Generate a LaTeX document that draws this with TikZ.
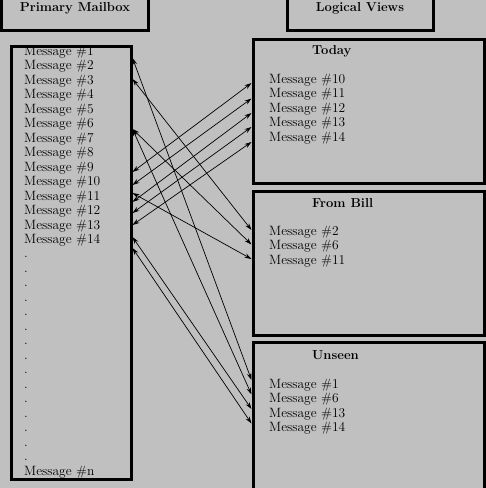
\documentclass[tikz,border=0pt]{standalone}
\usepackage{fontspec}
\usetikzlibrary{arrows.meta}
\definecolor{mailgray}{RGB}{192,192,192}

\begin{document}
\begin{tikzpicture}[x=1pt, y=-1pt,
		frame/.style={draw, line width=3pt, inner sep=0pt},
		msg/.style={anchor=base west, inner sep=0pt, font=\fontsize{13.5}{14.5}\selectfont},
		head/.style={anchor=base, inner sep=0pt, font=\fontsize{13}{14.5}\selectfont\bfseries},
		viewhead/.style={head, anchor=base west},
		link/.style={line width=0.7pt, {Stealth[length=7pt,width=4.5pt]}-{Stealth[length=7pt,width=4.5pt]}}]
		%%%%% START %%%%%
		
		\useasboundingbox (0, 0) rectangle (486, 488);
		\clip (0, 0) rectangle (486, 488);
		\fill[mailgray] (0, 0) rectangle (486, 488);
		
		\node[frame, minimum width=146.5, minimum height=40] (mailhead) at (74.75, 10) {};
		\node[head] (mailtitle) at (75, 11) {Primary Mailbox};
		\node[frame, minimum width=146, minimum height=40] (viewhead) at (360, 10) {};
		\node[head] (viewtitle) at (360, 11) {Logical Views};
		
		\node[frame, minimum width=120, minimum height=433] (mbox) at (71, 262.5) {};
		\node[frame, minimum width=231.5, minimum height=144] (today) at (368.75, 111) {};
		\node[frame, minimum width=231.5, minimum height=143.5] (bill) at (368.75, 263.25) {};
		\node[frame, minimum width=231.5, minimum height=152.5] (unseen) at (368.75, 418.75) {};
		
		\node[msg] (l1) at (24, 55) {Message \#1};
		\node[msg] (l2) at (24, 69.5) {Message \#2};
		\node[msg] (l3) at (24, 84) {Message \#3};
		\node[msg] (l4) at (24, 98.5) {Message \#4};
		\node[msg] (l5) at (24, 113) {Message \#5};
		\node[msg] (l6) at (24, 127.5) {Message \#6};
		\node[msg] (l7) at (24, 142) {Message \#7};
		\node[msg] (l8) at (24, 156.5) {Message \#8};
		\node[msg] (l9) at (24, 171) {Message \#9};
		\node[msg] (l10) at (24, 185.5) {Message \#10};
		\node[msg] (l11) at (24, 200) {Message \#11};
		\node[msg] (l12) at (24, 214.5) {Message \#12};
		\node[msg] (l13) at (24, 229) {Message \#13};
		\node[msg] (l14) at (24, 243.5) {Message \#14};
		% base of a multi-line node is its last line
		\node[msg, align=left] (ldots) at (24, 460.5) {.\\.\\.\\.\\.\\.\\.\\.\\.\\.\\.\\.\\.\\.\\.};
		\node[msg] (ln) at (24, 475.5) {Message \#n};
		
		\node[viewhead] (todaytitle) at (312, 54) {Today};
		\node[msg] (t10) at (269, 83) {Message \#10};
		\node[msg] (t11) at (269, 97.5) {Message \#11};
		\node[msg] (t12) at (269, 112) {Message \#12};
		\node[msg] (t13) at (269, 126.5) {Message \#13};
		\node[msg] (t14) at (269, 141) {Message \#14};
		
		\node[viewhead] (billtitle) at (312, 207) {From Bill};
		\node[msg] (b2) at (269, 235) {Message \#2};
		\node[msg] (b6) at (269, 249.5) {Message \#6};
		\node[msg] (b11) at (269, 264) {Message \#11};
		
		\node[viewhead] (unseentitle) at (312, 359) {Unseen};
		\node[msg] (u1) at (269, 388) {Message \#1};
		\node[msg] (u6) at (269, 402.5) {Message \#6};
		\node[msg] (u13) at (269, 417) {Message \#13};
		\node[msg] (u14) at (269, 431.5) {Message \#14};
		
		\draw[link] ([yshift=13.5pt]l10.base -| mbox.east) -- (t10.base -| today.west);
		\draw[link] ([yshift=15pt]l11.base -| mbox.east) -- ([yshift=-1pt]t11.base -| today.west);
		\draw[link] ([yshift=12.5pt]l12.base -| mbox.east) -- ([yshift=-1pt]t12.base -| today.west);
		\draw[link] ([yshift=16pt]l13.base -| mbox.east) -- ([yshift=-0.5pt]t13.base -| today.west);
		\draw[link] ([yshift=18.5pt]l14.base -| mbox.east) -- ([yshift=-1pt]t14.base -| today.west);
		
		\draw[link] ([yshift=-9.5pt]l2.base -| mbox.east) -- ([yshift=5pt]b2.base -| bill.west);
		\draw[link] ([yshift=-1.5pt]l6.base -| mbox.east) -- ([yshift=5pt]b6.base -| bill.west);
		\draw[link] ([yshift=7pt]l11.base -| mbox.east) -- ([yshift=5pt]b11.base -| bill.west);
		
		\draw[link] ([yshift=-3pt]l1.base -| mbox.east) -- ([yshift=8pt]u1.base -| unseen.west);
		\draw[link] ([yshift=-1.5pt]l6.base -| mbox.east) -- ([yshift=8pt]u6.base -| unseen.west);
		\draw[link] ([yshift=-8pt]l13.base -| mbox.east) -- ([yshift=8pt]u13.base -| unseen.west);
		\draw[link] ([yshift=-4.5pt]l14.base -| mbox.east) -- ([yshift=8pt]u14.base -| unseen.west);
		
		%%%%% END %%%%%
	\end{tikzpicture}
\end{document}
